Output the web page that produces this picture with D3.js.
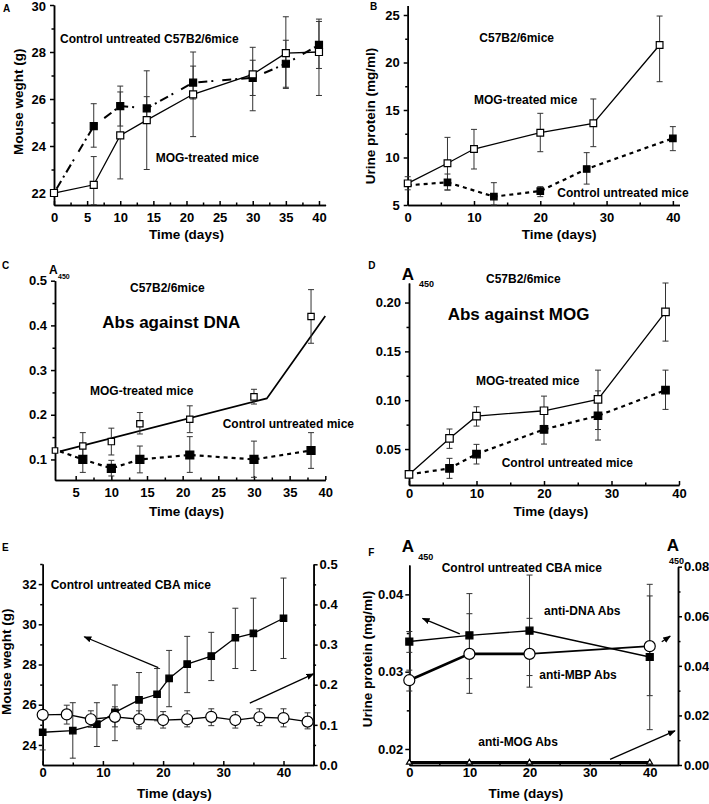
<!DOCTYPE html>
<html>
<head>
<meta charset="utf-8">
<script src="https://cdn.jsdelivr.net/npm/d3@7"></script>
<style>
body { margin: 0; background: #fff; }
svg { font-family: "Liberation Sans", Arial, sans-serif; font-weight: bold; }
.ax text { font-size: 13px; font-weight: bold; font-family: "Liberation Sans", Arial, sans-serif; fill: #000; }
.ax path, .ax line { stroke: #000; stroke-width: 1.5; }
</style>
</head>
<body>
<div id="chart"></div>
<script>
// ---- Panel A: mouse weight, C57B2/6 mice
var dayA = [0, 6, 10, 14, 21, 30, 35, 40];
var mogA = [22.0, 22.35, 24.45, 25.1, 26.2, 27.05, 27.95, 28.0];
var mogA_lo = [null, 21.5, 22.6, 23.0, 24.4, 25.5, 26.45, 26.15];
var mogA_hi = [null, 23.55, 26.3, 27.2, 28.0, 28.2, 29.5, 29.4];
var ctlA = [22.0, 24.85, 25.7, 25.6, 26.7, 26.9, 27.5, 28.3];
var ctlA_lo = [null, 23.95, 24.85, 25.1, 26.0, 26.15, 26.5, 27.3];
var ctlA_hi = [null, 25.8, 26.55, 26.1, 27.4, 27.65, 28.5, 29.3];

// ---- Panel B: urine protein
var dayB_mog = [0, 6, 10, 20, 28, 38];
var mogB = [7.28, 9.39, 10.89, 12.61, 13.6, 21.84];
var mogB_lo = [6.6, 6.58, 8.79, 10.61, 11.14, 17.98];
var mogB_hi = [7.98, 12.12, 12.96, 14.65, 16.16, 24.89];
var dayB_ctl = [0, 6, 13, 20, 27, 40];
var ctlB = [7.07, 7.39, 5.88, 6.47, 8.79, 12.02];
var ctlB_lo = [null, 6.58, 5.0, 5.88, 7.2, 10.72];
var ctlB_hi = [null, 8.26, 7.35, 6.93, 10.51, 13.25];

// ---- Panel C: Abs against DNA
var dayC = [6, 10, 14, 21, 30, 38];
var mogC = [0.13, 0.14, 0.18, 0.19, 0.24, 0.42];
var mogC_lo = [0.10, 0.11, 0.157, 0.16, 0.224, 0.36];
var mogC_hi = [0.16, 0.17, 0.205, 0.22, 0.257, 0.48];
var ctlC = [0.10, 0.08, 0.10, 0.11, 0.10, 0.12];
var ctlC_lo = [0.071, 0.063, 0.07, 0.071, 0.06, 0.08];
var ctlC_hi = [0.131, 0.098, 0.13, 0.151, 0.141, 0.16];
var startC = [2.8, 0.118];
var fitDayC = [2.8, 31.8, 40];
var fitMogC = [0.118, 0.2366, 0.421];

// ---- Panel D: Abs against MOG
var dayD = [0, 6, 10, 20, 28, 38];
var mogD = [0.024, 0.0609, 0.0837, 0.0892, 0.1008, 0.1904];
var mogD_lo = [null, 0.0507, 0.0735, 0.0742, 0.07, 0.1605];
var mogD_hi = [null, 0.0705, 0.0933, 0.1042, 0.1308, 0.22];
var ctlD = [0.024, 0.0302, 0.0449, 0.0701, 0.0841, 0.1103];
var ctlD_lo = [null, 0.020, 0.0347, 0.0551, 0.0592, 0.0906];
var ctlD_hi = [null, 0.0405, 0.0548, 0.0855, 0.1096, 0.1308];

// ---- Panel E: CBA mice, weight (left) and A450 (right)
var dayE_sq = [0, 5, 9, 12, 16, 19, 21, 24, 28, 32, 35, 40];
var weightE = [24.63, 24.71, 25.03, 25.62, 26.24, 26.52, 27.31, 28.02, 28.42, 29.33, 29.55, 30.3];
var weightE_lo = [23.75, 23.34, 23.92, 24.21, 24.8, 25.2, 25.9, 26.6, 27.2, 27.8, 27.7, 28.3];
var weightE_hi = [25.5, 26.1, 26.1, 26.98, 27.6, 27.8, 28.7, 29.4, 29.6, 30.8, 31.3, 32.3];
var dayE_ci = [0, 4, 8, 12, 16, 20, 24, 28, 32, 36, 40, 44];
var absE = [0.125, 0.126, 0.114, 0.12, 0.114, 0.112, 0.114, 0.12, 0.112, 0.119, 0.117, 0.108];
var absE_lo = [null, 0.102, 0.094, 0.095, 0.095, 0.092, 0.095, 0.098, 0.092, 0.098, 0.095, 0.09];
var absE_hi = [null, 0.149, 0.135, 0.145, 0.135, 0.133, 0.135, 0.14, 0.133, 0.14, 0.14, 0.13];
var arrowE1 = [[19.2, 27.84], [6.9, 29.38]];   // left axis units
var arrowE2 = [[34.4, 0.154], [45, 0.227]];    // right axis units

// ---- Panel F: CBA mice, antibodies
var dayF = [0, 10, 20, 40];
var dnaF = [0.0339, 0.0347, 0.0353, 0.0319];
var dnaF_lo = [0.0325, 0.0272, 0.028, 0.0225];
var dnaF_hi = [0.0352, 0.0401, 0.0425, 0.0413];
var mbpF = [0.0289, 0.0323, 0.0323, 0.0333];
var mbpF_lo = [0.0275, 0.0291, 0.0295, 0.0269];
var mbpF_hi = [0.0302, 0.0375, 0.0369, 0.0398];
var mogF = [0.001, 0.001, 0.001, 0.001];
var arrowF1 = [[8.4, 0.0349], [2.2, 0.0369]];   // left axis units
var arrowF2 = [[42.0, 0.0497], [43.4, 0.052]];  // right axis units
var arrowF3 = [[33.4, 0.0023], [44.2, 0.0138]]; // right axis units

var svg = d3.select("#chart").append("svg").attr("width", 709).attr("height", 804);

svg.append("defs").append("marker")
    .attr("id", "arr").attr("viewBox", "0 0 10 10").attr("refX", 9).attr("refY", 5)
    .attr("markerWidth", 6).attr("markerHeight", 6).attr("orient", "auto")
    .append("path").attr("d", "M0,1 L10,5 L0,9 Z").attr("fill", "#000");

function range(a, b, s) { return d3.range(a, b + s / 2, s); }

function bottomAxis(x, y0, major, minor, fmt, pad) {
    svg.append("g").attr("class", "ax").attr("transform", `translate(0,${y0})`)
        .call(d3.axisBottom(x).tickValues(minor).tickSizeInner(-2.5).tickSizeOuter(0).tickFormat(""));
    svg.append("g").attr("class", "ax").attr("transform", `translate(0,${y0})`)
        .call(d3.axisBottom(x).tickValues(major).tickSizeInner(-4).tickSizeOuter(0).tickPadding(pad).tickFormat(fmt));
}

function leftAxis(y, x0, major, minor, fmt, pad) {
    svg.append("g").attr("class", "ax").attr("transform", `translate(${x0},0)`)
        .call(d3.axisLeft(y).tickValues(minor).tickSizeInner(2.5).tickSizeOuter(0).tickFormat(""));
    return svg.append("g").attr("class", "ax").attr("transform", `translate(${x0},0)`)
        .call(d3.axisLeft(y).tickValues(major).tickSizeInner(4).tickSizeOuter(0).tickPadding(pad).tickFormat(fmt));
}

function rightAxis(y, x0, major, minor, fmt, pad) {
    svg.append("g").attr("class", "ax").attr("transform", `translate(${x0},0)`)
        .call(d3.axisRight(y).tickValues(minor).tickSizeInner(2.5).tickSizeOuter(0).tickFormat(""));
    svg.append("g").attr("class", "ax").attr("transform", `translate(${x0},0)`)
        .call(d3.axisRight(y).tickValues(major).tickSizeInner(4).tickSizeOuter(0).tickPadding(pad).tickFormat(fmt));
}

function drawLine(x, y, xs, ys, width, dash) {
    var pts = xs.map((d, i) => [d, ys[i]]);
    svg.append("path").datum(pts)
        .attr("fill", "none").attr("stroke", "#000")
        .attr("stroke-width", width)
        .attr("stroke-dasharray", dash || null)
        .attr("d", d3.line().x(d => x(d[0])).y(d => y(d[1])));
}

function drawErr(x, y, xs, lo, hi) {
    var g = svg.append("g").attr("stroke", "#333").attr("stroke-width", 1);
    xs.forEach((d, i) => {
        if (lo[i] == null) return;
        g.append("line").attr("x1", x(d)).attr("x2", x(d)).attr("y1", y(lo[i])).attr("y2", y(hi[i]));
        [lo[i], hi[i]].forEach(v => {
            g.append("line").attr("x1", x(d) - 3).attr("x2", x(d) + 3).attr("y1", y(v)).attr("y2", y(v));
        });
    });
}

function drawMarks(x, y, xs, ys, type, area, fill) {
    svg.append("g").selectAll("path")
        .data(xs.map((d, i) => [d, ys[i]]))
        .join("path")
        .attr("transform", d => `translate(${x(d[0])},${y(d[1])})`)
        .attr("d", d3.symbol(type, area))
        .attr("fill", fill).attr("stroke", "#000").attr("stroke-width", 1.2);
}

function drawArrow(x, y, pts) {
    svg.append("line")
        .attr("x1", x(pts[0][0])).attr("y1", y(pts[0][1]))
        .attr("x2", x(pts[1][0])).attr("y2", y(pts[1][1]))
        .attr("stroke", "#000").attr("stroke-width", 1.3)
        .attr("marker-end", "url(#arr)");
}

function text(x, y, s, size, anchor) {
    return svg.append("text").attr("x", x).attr("y", y)
        .attr("font-size", size).attr("font-weight", "bold")
        .attr("text-anchor", anchor || "start").text(s);
}

function yTitle(x, y, s, size) {
    svg.append("text").attr("transform", `translate(${x},${y}) rotate(-90)`)
        .attr("text-anchor", "middle").attr("font-size", size).attr("font-weight", "bold").text(s);
}

var f0 = d3.format("d"), f1 = d3.format(".1f"), f2 = d3.format(".2f");

// ================= A =================
var xA = d3.scaleLinear().domain([0, 41]).range([54, 325.6]);
var yA = d3.scaleLinear().domain([21.49, 30]).range([205, 5]);
bottomAxis(xA, 205, range(0, 40, 5), range(2.5, 37.5, 5), f0, 7.5);
var axA = leftAxis(yA, 54, range(22, 30, 2), range(23, 29, 2), f0, 4);
// keep the top label inside the page
axA.selectAll(".tick text").filter(d => d === 30).attr("y", 1.5);
drawLine(xA, yA, dayA, ctlA, 2, "0,5,9,4,2,4,9,4,2,4");
drawLine(xA, yA, dayA, mogA, 1.3);
drawErr(xA, yA, dayA, ctlA_lo, ctlA_hi);
drawErr(xA, yA, dayA, mogA_lo, mogA_hi);
drawMarks(xA, yA, dayA.slice(1), ctlA.slice(1), d3.symbolSquare, 49, "#000");
drawMarks(xA, yA, dayA, mogA, d3.symbolSquare, 49, "#fff");
text(3, 12, "A", 10);
text(60, 42.5, "Control untreated C57B2/6mice", 12);
text(155.7, 162, "MOG-treated mice", 12);
yTitle(22.5, 101.7, "Mouse weght (g)", 13.5);
text(186.5, 239, "Time (days)", 13.5, "middle");

// ================= B =================
var xB = d3.scaleLinear().domain([0, 41]).range([407.7, 679.5]);
var yB = d3.scaleLinear().domain([5, 26]).range([205, 5.5]);
bottomAxis(xB, 205, range(0, 40, 10), range(5, 35, 10), f0, 7.5);
leftAxis(yB, 407.7, range(5, 25, 5), range(7.5, 22.5, 5), f0, 4);
drawLine(xB, yB, dayB_ctl, ctlB, 2.2, "4,4");
drawLine(xB, yB, dayB_mog, mogB, 1.3);
drawErr(xB, yB, dayB_ctl, ctlB_lo, ctlB_hi);
drawErr(xB, yB, dayB_mog, mogB_lo, mogB_hi);
drawMarks(xB, yB, dayB_ctl.slice(1), ctlB.slice(1), d3.symbolSquare, 42, "#000");
drawMarks(xB, yB, dayB_mog, mogB, d3.symbolSquare, 45, "#fff");
text(370, 10, "B", 10);
text(479.3, 41.7, "C57B2/6mice", 12);
text(474, 104, "MOG-treated mice", 12);
text(557.3, 197.3, "Control untreated mice", 12);
yTitle(375, 116, "Urine protein (mg/ml)", 13.5);
text(559.2, 239, "Time (days)", 13.5, "middle");

// ================= C =================
var xC = d3.scaleLinear().domain([2.1, 40]).range([55, 325.3]);
var yC = d3.scaleLinear().domain([0.054, 0.5]).range([480, 280.7]);
bottomAxis(xC, 480, range(5, 40, 5), range(7.5, 37.5, 5), f0, 8);
leftAxis(yC, 55, range(0.1, 0.5, 0.1), range(0.15, 0.45, 0.1), f1, 4);
drawLine(xC, yC, [startC[0]].concat(dayC), [startC[1]].concat(ctlC), 2.2, "4,4");
drawLine(xC, yC, fitDayC, fitMogC, 1.7);
drawErr(xC, yC, dayC, mogC_lo, mogC_hi);
drawErr(xC, yC, dayC, ctlC_lo, ctlC_hi);
drawMarks(xC, yC, [2.1], [0.12], d3.symbolSquare, 30, "#fff");
drawMarks(xC, yC, dayC, ctlC, d3.symbolSquare, 64, "#000");
drawMarks(xC, yC, dayC, mogC, d3.symbolSquare, 40, "#fff");
text(2, 269.3, "C", 10);
text(49, 274, "A", 12);
text(58, 279, "450", 7);
text(130, 291.7, "C57B2/6mice", 12);
text(102.3, 328, "Abs against DNA", 17);
text(90, 395, "MOG-treated mice", 12);
text(222.7, 427.7, "Control untreated mice", 12);
text(186.5, 516, "Time (days)", 13.5, "middle");

// ================= D =================
var xD = d3.scaleLinear().domain([0, 40]).range([409, 679]);
var yD = d3.scaleLinear().domain([0.0132, 0.22]).range([485, 283]);
bottomAxis(xD, 485, range(0, 40, 10), range(5, 35, 10), f0, 4);
leftAxis(yD, 409, range(0.05, 0.20, 0.05), range(0.025, 0.175, 0.05), f2, 4);
drawLine(xD, yD, dayD, ctlD, 2.2, "4,4");
drawLine(xD, yD, dayD, mogD, 1.3);
drawErr(xD, yD, dayD, ctlD_lo, ctlD_hi);
drawErr(xD, yD, dayD, mogD_lo, mogD_hi);
drawMarks(xD, yD, dayD.slice(1), ctlD.slice(1), d3.symbolSquare, 56, "#000");
drawMarks(xD, yD, dayD, mogD, d3.symbolSquare, 56, "#fff");
text(368.3, 269.3, "D", 10);
text(401.7, 280, "A", 17);
text(419, 287, "450", 9);
text(486, 283.3, "C57B2/6mice", 12);
text(447.7, 320, "Abs against MOG", 17);
text(476, 384.7, "MOG-treated mice", 12);
text(501.7, 466.7, "Control untreated mice", 12);
text(550.8, 516, "Time (days)", 13.5, "middle");

// ================= E =================
var xE = d3.scaleLinear().domain([0, 45]).range([42.7, 313.6]);
var yE = d3.scaleLinear().domain([23, 33]).range([765, 564]);
var yE2 = d3.scaleLinear().domain([0, 0.5]).range([765, 564.3]);
bottomAxis(xE, 765, range(0, 40, 10), range(5, 45, 10), f0, 3);
leftAxis(yE, 42.7, range(24, 32, 2), range(25, 33, 2), f0, 2);
rightAxis(yE2, 313.6, range(0, 0.5, 0.1), range(0.05, 0.45, 0.1), f1, 2);
drawLine(xE, yE, dayE_sq, weightE, 1.3);
drawLine(xE, yE2, dayE_ci, absE, 1.3);
drawErr(xE, yE, dayE_sq, weightE_lo, weightE_hi);
drawErr(xE, yE2, dayE_ci, absE_lo, absE_hi);
drawMarks(xE, yE, dayE_sq, weightE, d3.symbolSquare, 42, "#000");
drawMarks(xE, yE2, dayE_ci, absE, d3.symbolCircle, 95, "#fff");
drawArrow(xE, yE, arrowE1);
drawArrow(xE, yE2, arrowE2);
text(2, 550.7, "E", 10);
text(50.7, 589, "Control untreated CBA mice", 12);
yTitle(11, 661.7, "Mouse weght (g)", 13.5);
text(174.3, 798, "Time (days)", 13.5, "middle");

// ================= F =================
var xF = d3.scaleLinear().domain([0, 44.7]).range([409.3, 678]);
var yF = d3.scaleLinear().domain([0.01793, 0.0438]).range([765, 565]);
var yF2 = d3.scaleLinear().domain([0, 0.08]).range([765, 566.7]);
bottomAxis(xF, 765, range(0, 40, 10), range(5, 35, 10), f0, 3);
leftAxis(yF, 409.3, [0.02, 0.03, 0.04], [0.025, 0.035], f2, 2);
rightAxis(yF2, 678, range(0, 0.08, 0.02), range(0.01, 0.07, 0.02), f2, 2);
drawLine(xF, yF, dayF, dnaF, 1.4);
drawLine(xF, yF, dayF.slice(0, 3), mbpF.slice(0, 3), 2.6);
drawLine(xF, yF, dayF.slice(2), mbpF.slice(2), 1.8);
drawLine(xF, yF2, dayF, mogF, 3);
drawErr(xF, yF, dayF, dnaF_lo, dnaF_hi);
drawErr(xF, yF, dayF, mbpF_lo, mbpF_hi);
drawMarks(xF, yF, dayF, dnaF, d3.symbolSquare, 49, "#000");
drawMarks(xF, yF, dayF, mbpF, d3.symbolCircle, 95, "#fff");
drawMarks(xF, yF2, dayF, mogF, d3.symbolTriangle, 14, "#fff");
drawArrow(xF, yF, arrowF1);
drawArrow(xF, yF2, arrowF2);
drawArrow(xF, yF2, arrowF3);
text(368.3, 556, "F", 10);
text(401.7, 551.7, "A", 17);
text(418.3, 560, "450", 9);
text(666.7, 550.5, "A", 17);
text(669, 564, "450", 9);
text(441.7, 572.3, "Control untreated CBA mice", 12);
text(544, 615, "anti-DNA Abs", 12);
text(539.3, 679, "anti-MBP Abs", 12);
text(478.3, 746, "anti-MOG Abs", 12);
yTitle(372, 659, "Urine protein (mg/ml)", 13.5);
text(525.8, 798, "Time (days)", 13.5, "middle");
</script>
</body>
</html>
